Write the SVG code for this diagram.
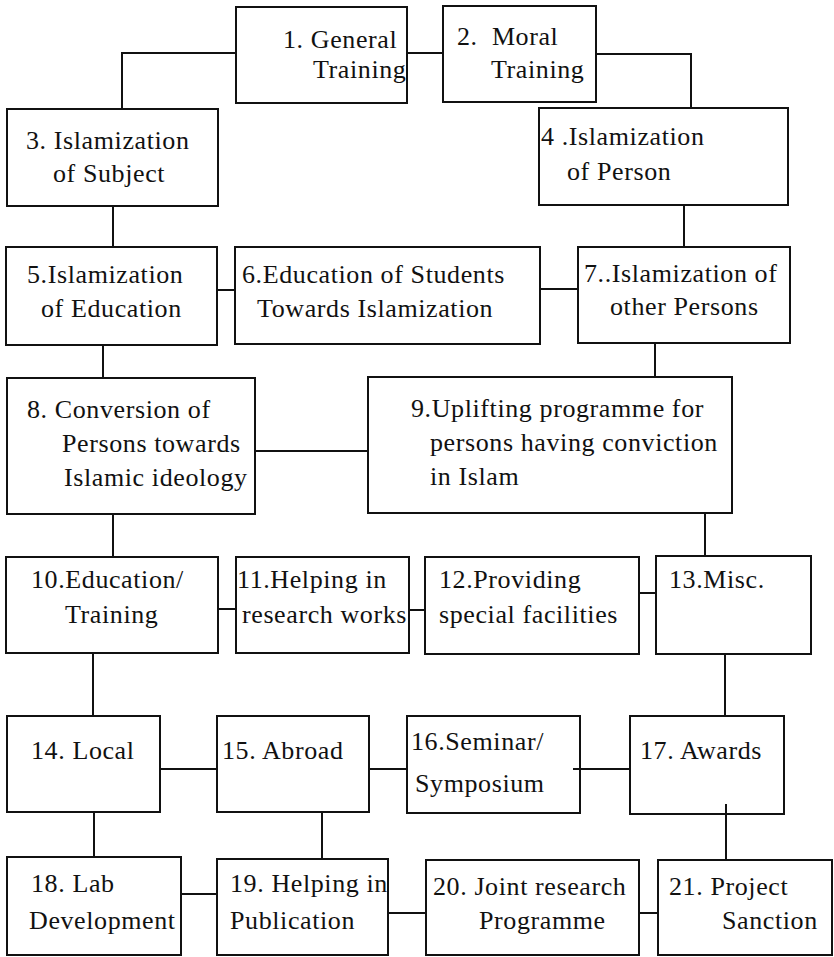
<svg xmlns="http://www.w3.org/2000/svg" width="834" height="957" viewBox="0 0 834 957">
<style>
rect{fill:#fff;stroke:#111;stroke-width:2}
.c line,.c polyline{stroke:#111;stroke-width:2;fill:none}
text{font-family:"Liberation Serif","Times New Roman",serif;font-size:26px;letter-spacing:0.6px;fill:#111}
</style>
<rect x="0" y="0" width="834" height="957" style="stroke:none"/>
<g class="c" id="connectors">
<line x1="407" y1="53" x2="443" y2="53"/>
<polyline points="236,53 122,53 122,109"/>
<polyline points="596,54 691,54 691,108"/>
<line x1="113" y1="206" x2="113" y2="247"/>
<line x1="684" y1="205" x2="684" y2="247"/>
<line x1="217" y1="290" x2="235" y2="290"/>
<line x1="540" y1="289" x2="578" y2="289"/>
<line x1="103" y1="345" x2="103" y2="378"/>
<line x1="655" y1="343" x2="655" y2="377"/>
<line x1="255" y1="451" x2="368" y2="451"/>
<line x1="113" y1="514" x2="113" y2="557"/>
<line x1="705" y1="513" x2="705" y2="556"/>
<line x1="218" y1="609" x2="236" y2="609"/>
<line x1="409" y1="610" x2="425" y2="610"/>
<line x1="639" y1="593" x2="656" y2="593"/>
<line x1="93" y1="653" x2="93" y2="716"/>
<line x1="725" y1="654" x2="725" y2="716"/>
<line x1="160" y1="769" x2="217" y2="769"/>
<line x1="369" y1="769" x2="407" y2="769"/>
<line x1="573" y1="769" x2="630" y2="769"/>
<line x1="94" y1="812" x2="94" y2="857"/>
<line x1="322" y1="812" x2="322" y2="859"/>
<line x1="726" y1="804" x2="726" y2="862"/>
<line x1="181" y1="894" x2="217" y2="894"/>
<line x1="388" y1="913" x2="426" y2="913"/>
<line x1="639" y1="913" x2="658" y2="913"/>
</g>
<g id="n1"><rect x="236" y="7" width="171" height="96"/><text x="283" y="48">1. General</text><text x="313" y="78">Training</text></g>
<g id="n2"><rect x="443" y="6" width="153" height="96"/><text x="457" y="45" xml:space="preserve">2.  Moral</text><text x="491" y="78">Training</text></g>
<g id="n3"><rect x="7" y="109" width="211" height="97"/><text x="26" y="149">3. Islamization</text><text x="53" y="182">of Subject</text></g>
<g id="n4"><rect x="539" y="108" width="249" height="97"/><text x="541" y="145">4 .Islamization</text><text x="567" y="180">of Person</text></g>
<g id="n5"><rect x="6" y="247" width="211" height="98"/><text x="27" y="283">5.Islamization</text><text x="41" y="317">of Education</text></g>
<g id="n6"><rect x="235" y="247" width="305" height="97"/><text x="242" y="283">6.Education of Students</text><text x="257" y="317">Towards Islamization</text></g>
<g id="n7"><rect x="578" y="247" width="212" height="96"/><text x="584" y="282">7..Islamization of</text><text x="610" y="315">other Persons</text></g>
<g id="n8"><rect x="7" y="378" width="248" height="136"/><text x="27" y="418">8. Conversion of</text><text x="62" y="452">Persons towards</text><text x="64" y="486">Islamic ideology</text></g>
<g id="n9"><rect x="368" y="377" width="364" height="136"/><text x="411" y="417">9.Uplifting programme for</text><text x="430" y="451">persons having conviction</text><text x="430" y="485">in Islam</text></g>
<g id="n10"><rect x="6" y="557" width="212" height="96"/><text x="31" y="588">10.Education/</text><text x="65" y="623">Training</text></g>
<g id="n11"><rect x="236" y="557" width="173" height="96"/><text x="237" y="588">11.Helping in</text><text x="242" y="623">research works</text></g>
<g id="n12"><rect x="425" y="557" width="214" height="97"/><text x="439" y="588">12.Providing</text><text x="439" y="623">special facilities</text></g>
<g id="n13"><rect x="656" y="556" width="155" height="98"/><text x="669" y="588">13.Misc.</text></g>
<g id="n14"><rect x="7" y="716" width="153" height="96"/><text x="31" y="759">14. Local</text></g>
<g id="n15"><rect x="217" y="716" width="152" height="96"/><text x="222" y="759">15. Abroad</text></g>
<g id="n16"><rect x="407" y="716" width="173" height="97"/><text x="411" y="750">16.Seminar/</text><text x="415" y="792">Symposium</text></g>
<g id="n17"><rect x="630" y="716" width="154" height="98"/><text x="640" y="759">17. Awards</text></g>
<g id="n18"><rect x="7" y="857" width="174" height="98"/><text x="31" y="892">18. Lab</text><text x="29" y="929">Development</text></g>
<g id="n19"><rect x="217" y="859" width="171" height="96"/><text x="230" y="892">19. Helping in</text><text x="230" y="929">Publication</text></g>
<g id="n20"><rect x="426" y="860" width="213" height="95"/><text x="433" y="895">20. Joint research</text><text x="479" y="929">Programme</text></g>
<g id="n21"><rect x="658" y="860" width="174" height="95"/><text x="669" y="895">21. Project</text><text x="722" y="929">Sanction</text></g>
<line x1="573" y1="769" x2="580" y2="769" style="stroke:#111;stroke-width:2"/>
<line x1="726" y1="804" x2="726" y2="814" style="stroke:#111;stroke-width:2"/>
</svg>
